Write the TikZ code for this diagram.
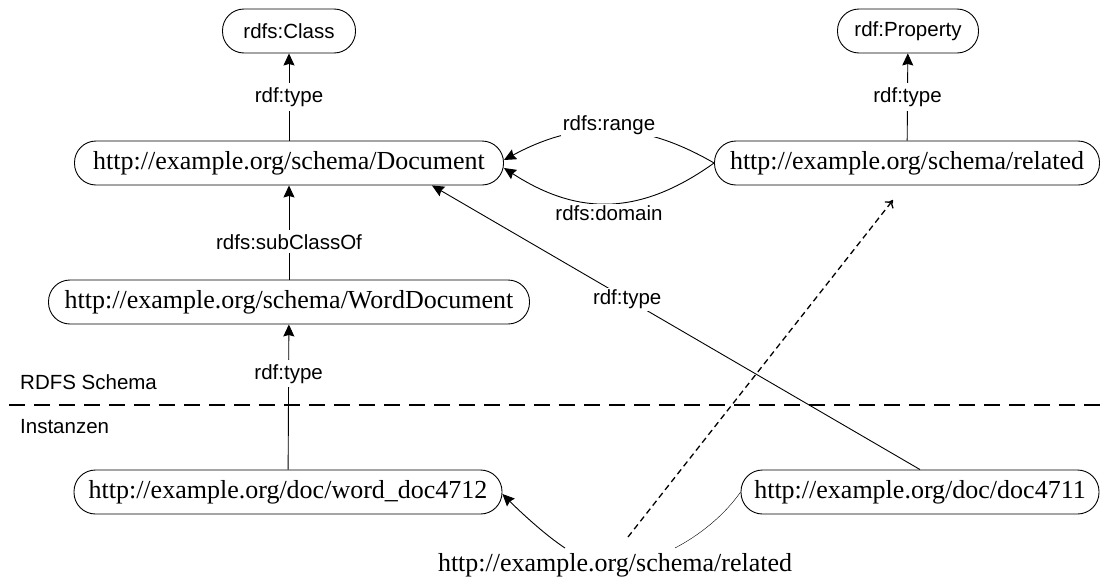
\documentclass[tikz,border=0pt]{standalone}
\usepackage{fontspec}
\setmainfont{Liberation Serif}
\newfontfamily\labelfont{Liberation Sans}
\usetikzlibrary{arrows.meta}

\begin{document}
\begin{tikzpicture}[x=1pt,y=-1pt,
  res/.style={draw, line width=0.9pt, rounded corners=21.5pt, minimum height=44pt,
    inner sep=0pt, font=\fontsize{26}{30}\selectfont},
  cls/.style={res, font=\labelfont\fontsize{20.5}{24}\selectfont},
  lbl/.style={fill=white, inner xsep=2pt, inner ysep=4pt, font=\labelfont\fontsize{20.5}{24}\selectfont},
  layer/.style={anchor=west, inner sep=0pt, font=\labelfont\fontsize{20.5}{24}\selectfont},
  rel/.style={line width=0.9pt, -{Stealth[length=12pt,width=11pt,inset=1.5pt]}},
  sep/.style={line width=1.5pt, dash pattern=on 16pt off 9pt},
  inf/.style={line width=1.3pt, dash pattern=on 6pt off 4pt, -{To[length=7pt,width=11pt]}},
]
\useasboundingbox (0,0) rectangle (1102,581);

% schema level
\node[cls, minimum width=133pt] (rdfsclass) at (289,31) {rdfs:Class};
\node[cls, minimum width=141pt] (rdfprop) at (908,31) {rdf:Property};
\node[res, minimum width=429pt] (doc) at (289,163) {http://example.org/schema/Document};
\node[res, minimum width=385pt] (related) at (907,163) {http://example.org/schema/related};
\node[res, minimum width=481pt] (worddoc) at (289,302) {http://example.org/schema/WordDocument};

% instance level
\node[res, minimum width=428pt] (wd4712) at (288,492) {http://example.org/doc/word\_doc4712};
\node[res, minimum width=358pt] (d4711) at (920,492) {http://example.org/doc/doc4711};
\node[font=\fontsize{26}{30}\selectfont, inner sep=2pt] (relname) at (615,565) {http://example.org/schema/related};

% layer separator
\coordinate (sepL) at (9,405);
\coordinate (sepR) at (1102,405);
\draw[sep] (sepL) -- (sepR);
\node[layer] (schemalbl) at (20,382) {RDFS Schema};
\node[layer] (instlbl) at (20,427) {Instanzen};

% typing and subclass edges
\draw[rel] (doc) -- node[lbl] {rdf:type} (rdfsclass);
\draw[rel] (related) -- node[lbl] {rdf:type} (rdfprop);
\draw[rel] (worddoc) -- node[lbl, pos=0.4] {rdfs:subClassOf} (doc);
\draw[rel] (wd4712) -- node[lbl, pos=0.66] {rdf:type} (worddoc);
\draw[rel] (d4711.north) -- node[lbl, inner ysep=2pt, pos=0.6] {rdf:type} ([xshift=143pt]doc.south);

% range and domain
\draw[rel] (related.west) .. controls +(-74,-43) and +(74,-40) .. node[lbl, inner ysep=2pt, yshift=5pt] {rdfs:range} ([yshift=3pt]doc.east);
\draw[rel] (related.west) .. controls +(-74,53) and +(74,48) .. node[lbl, inner ysep=2pt, yshift=-10pt] {rdfs:domain} ([yshift=-5pt]doc.east);

% statement: doc4711 related word_doc4712
\coordinate (relR) at ([xshift=60pt,yshift=3pt]relname.north);
\coordinate (relL) at ([xshift=-50pt,yshift=3pt]relname.north);
\draw (d4711.west) .. controls +(-16,23) and +(25,-13) .. (relR);
\draw[rel] (relL) .. controls +(-20,-13) and +(17,17) .. ([yshift=-2pt]wd4712.east);

% inferred property instance
\coordinate (infS) at (628,537);
\coordinate (infE) at (893,200);
\draw[inf] (infS) -- (infE);
\end{tikzpicture}
\end{document}
